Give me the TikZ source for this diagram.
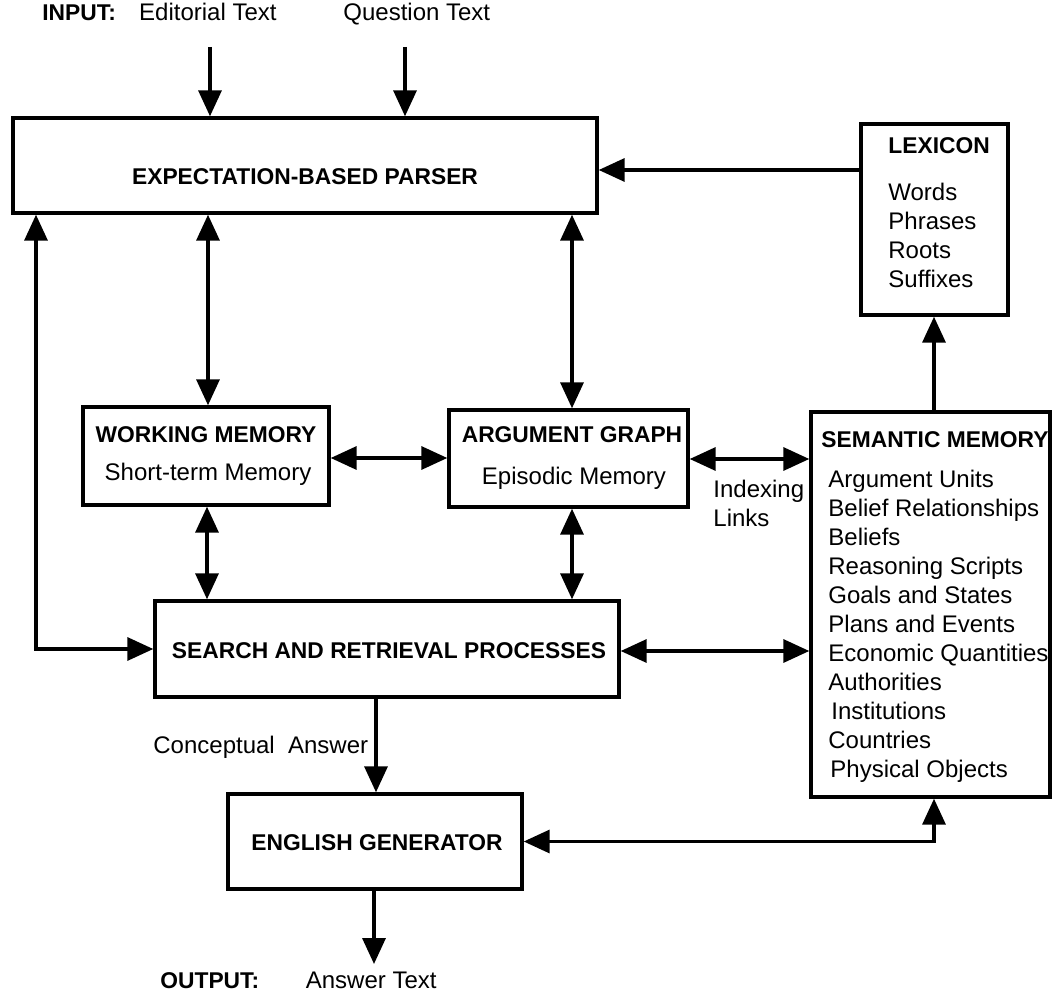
\documentclass[tikz,border=0pt]{standalone}
\usepackage{fontspec}
\setmainfont{Liberation Sans}
\usetikzlibrary{arrows.meta,fit}
\begin{document}
\begin{tikzpicture}[x=0.5pt,y=-0.5pt,
  box/.style={draw,line width=1.7pt,inner sep=0pt,rectangle},
  head/.style={font=\fontsize{11.4}{13}\selectfont\bfseries,inner sep=0pt},
  lbl/.style={font=\fontsize{12}{14}\selectfont,inner sep=0pt},
  tip/.tip={Triangle[length=13pt,width=11.5pt]},
  link/.style={line width=1.7pt,-tip},
  dlink/.style={line width=1.7pt,tip-tip}]
\useasboundingbox (0,0) rectangle (1053,999);

% boxes
\node[box,fit={(13,118) (597,213)}] (parser) {};
\node[box,fit={(861,124) (1008,315)}] (lex) {};
\node[box,fit={(83,407) (329,505)}] (wm) {};
\node[box,fit={(449,410) (688,507)}] (ag) {};
\node[box,fit={(811,412) (1050,797)}] (sm) {};
\node[box,fit={(155,601) (619,697)}] (search) {};
\node[box,fit={(228,794) (522,889)}] (eg) {};

% input and output labels
\node[head,anchor=base west] (tin) at (42,21) {INPUT:};
\node[lbl,anchor=base east] (ted) at (277,21) {Editorial Text};
\node[lbl,anchor=base west] (tq) at (343,21) {Question Text};
\node[head,anchor=base west] (tout) at (160,988) {OUTPUT:};
\node[lbl,anchor=base east] (tans) at (437,988) {Answer Text};

% box contents
\node[head,anchor=base] (tparser) at (305,185) {EXPECTATION-BASED PARSER};
\node[head,anchor=base west] (tlex) at (888,154) {LEXICON};
\node[lbl,anchor=base west] (tl1) at (888,201) {Words};
\node[lbl,anchor=base west] (tl2) at (888,230) {Phrases};
\node[lbl,anchor=base west] (tl3) at (888,259) {Roots};
\node[lbl,anchor=base west] (tl4) at (888,288) {Suffixes};
\node[head,anchor=base] (twm) at (206,443) {WORKING MEMORY};
\node[lbl,anchor=base] (twm2) at (208,480) {Short-term Memory};
\node[head,anchor=base] (tag) at (572,443) {ARGUMENT GRAPH};
\node[lbl,anchor=base] (tag2) at (574,484) {Episodic Memory};
\node[head,anchor=base west] (tsm) at (821,447) {SEMANTIC MEMORY};
\node[lbl,anchor=base west] (ts1) at (828,487) {Argument Units};
\node[lbl,anchor=base west] (ts2) at (828,516) {Belief Relationships};
\node[lbl,anchor=base west] (ts3) at (828,545) {Beliefs};
\node[lbl,anchor=base west] (ts4) at (828,574) {Reasoning Scripts};
\node[lbl,anchor=base west] (ts5) at (828,603) {Goals and States};
\node[lbl,anchor=base west] (ts6) at (828,632) {Plans and Events};
\node[lbl,anchor=base west] (ts7) at (828,661) {Economic Quantities};
\node[lbl,anchor=base west] (ts8) at (828,690) {Authorities};
\node[lbl,anchor=base west] (ts9) at (831,719) {Institutions};
\node[lbl,anchor=base west] (ts10) at (828,748) {Countries};
\node[lbl,anchor=base west] (ts11) at (830,777) {Physical Objects};
\node[head,anchor=base] (tsearch) at (389,658) {SEARCH AND RETRIEVAL PROCESSES};
\node[head,anchor=base] (teg) at (377,850) {ENGLISH GENERATOR};

% connector labels
\node[lbl,anchor=base west] (tidx1) at (713,497) {Indexing};
\node[lbl,anchor=base west] (tidx2) at (713,526) {Links};
\node[lbl,anchor=base west] (tca) at (153,753) {Conceptual\ \ Answer};

% free ends of the input/output arrows
\coordinate (in1) at (210,47);
\coordinate (in2) at (405,47);
\coordinate (out) at (374,964);

% connectors
\draw[link] (in1) -- (parser.north -| in1);
\draw[link] (in2) -- (parser.north -| in2);
\draw[link] (lex.west |- 0,170) -- (parser.east |- 0,170);
\draw[dlink] (parser.south -| 208,0) -- (wm.north -| 208,0);
\draw[dlink] (parser.south -| 572,0) -- (ag.north -| 572,0);
\draw[dlink] (parser.south -| 36,0) |- (search.west);
\draw[dlink] (wm.east |- 0,458) -- (ag.west |- 0,458);
\draw[dlink] (ag.east |- 0,459) -- (sm.west |- 0,459);
\draw[dlink] (wm.south -| 207,0) -- (search.north -| 207,0);
\draw[dlink] (ag.south -| 572,0) -- (search.north -| 572,0);
\draw[dlink] (search.east |- 0,651) -- (sm.west |- 0,651);
\draw[link] (search.south -| 376,0) -- (eg.north -| 376,0);
\draw[dlink] (eg.east) -| (sm.south -| 934,0);
\draw[link] (sm.north -| 934,0) -- (lex.south -| 934,0);
\draw[link] (eg.south -| 374,0) -- (out);
\end{tikzpicture}
\end{document}
